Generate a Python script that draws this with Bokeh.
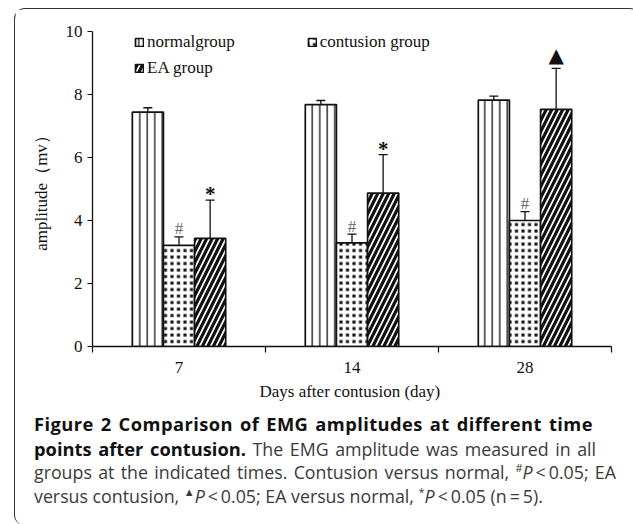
from bokeh.plotting import figure
from bokeh.models import (Range1d, FixedTicker, ColumnDataSource, Whisker, TeeHead, Legend,
                          LegendItem, Div)
from bokeh.layouts import column
from bokeh.transform import dodge
from bokeh.embed import file_html
from bokeh.resources import INLINE
from bokeh.core.properties import value

# ---- data ----
days = ["7", "14", "28"]
group_names = ["normalgroup", "contusion group", "EA group"]
normal_mean = [7.44, 7.68, 7.82]
normal_err = [0.14, 0.13, 0.13]
contusion_mean = [3.21, 3.29, 4.00]
contusion_err = [0.27, 0.28, 0.28]
ea_mean = [3.43, 4.87, 7.53]
ea_err = [1.22, 1.22, 1.30]
contusion_marks = ["#", "#", "#"]
ea_marks = ["*", "*", "\u25B2"]
y_ticks = [0, 2, 4, 6, 8, 10]

SERIF = "Liberation Serif"
INK = "#111111"

xs = [i + 0.5 for i in range(len(days))]
src = ColumnDataSource(dict(
    x=xs,
    normal=normal_mean,
    n_up=[m + e for m, e in zip(normal_mean, normal_err)],
    n_lo=[m - e for m, e in zip(normal_mean, normal_err)],
    contusion=contusion_mean,
    c_up=[m + e for m, e in zip(contusion_mean, contusion_err)],
    c_lo=[m - e for m, e in zip(contusion_mean, contusion_err)],
    ea=ea_mean,
    e_up=[m + e for m, e in zip(ea_mean, ea_err)],
    e_lo=[m - e for m, e in zip(ea_mean, ea_err)],
    c_mark=contusion_marks,
))
star_idx = [i for i, m in enumerate(ea_marks) if m == "*"]
tri_idx = [i for i, m in enumerate(ea_marks) if m != "*"]
star_src = ColumnDataSource(dict(
    x=[xs[i] for i in star_idx],
    y=[ea_mean[i] + ea_err[i] for i in star_idx],
    t=[ea_marks[i] for i in star_idx]))
tri_src = ColumnDataSource(dict(
    x=[xs[i] for i in tri_idx],
    y=[ea_mean[i] + ea_err[i] for i in tri_idx],
    t=[ea_marks[i] for i in tri_idx]))

p = figure(width=615, height=398, x_range=Range1d(0, len(days)), y_range=Range1d(0, 10),
           output_backend="svg", toolbar_location=None,
           min_border_left=77, min_border_right=19, min_border_top=22, min_border_bottom=61)
p.outline_line_color = None
p.grid.visible = False
p.background_fill_color = "white"
p.border_fill_color = "white"

W = 0.18
OFF = 0.18
bar_common = dict(width=W, source=src, line_color=INK, line_width=1.7)
r_n = p.vbar(x=dodge("x", -OFF, range=p.x_range), top="normal", bottom=0,
             fill_color="white", hatch_color=INK,
             hatch_pattern="vertical_line", hatch_scale=7.5, hatch_weight=1.3, **bar_common)
# square dots: dark fill crossed by a white grid leaves small dark squares
r_c = p.vbar(x=dodge("x", 0, range=p.x_range), top="contusion", bottom=0,
             fill_color=INK, hatch_color="white",
             hatch_pattern="cross", hatch_scale=6.5, hatch_weight=3.4, **bar_common)
r_e = p.vbar(x=dodge("x", OFF, range=p.x_range), top="ea", bottom=0,
             fill_color="white", hatch_color=INK,
             hatch_pattern="right_diagonal_line", hatch_scale=11, hatch_weight=3.2, **bar_common)

for off, up, lo in [(-OFF, "n_up", "n_lo"), (0, "c_up", "c_lo"), (OFF, "e_up", "e_lo")]:
    w = Whisker(source=src, base=dodge("x", off, range=p.x_range), upper=up, lower=lo,
                line_color=INK, line_width=1.3,
                upper_head=TeeHead(size=9, line_width=1.3, line_color=INK),
                lower_head=TeeHead(size=9, line_width=1.3, line_color=INK))
    p.add_layout(w)

# significance marks
p.text(x=dodge("x", 0, range=p.x_range), y="c_up", text="c_mark", source=src,
       text_align="center", text_baseline="alphabetic", y_offset=-8,
       text_font=value(SERIF), text_font_size="17px", text_color="#6a6a6a")
p.text(x=dodge("x", OFF, range=p.x_range), y="y", text="t", source=star_src,
       text_align="center", text_baseline="alphabetic", y_offset=-6,
       text_font=value(SERIF), text_font_size="21px", text_font_style="bold", text_color=INK)
p.text(x=dodge("x", OFF, range=p.x_range), y="y", text="t", source=tri_src,
       text_align="center", text_baseline="alphabetic", y_offset=-13,
       text_font=value("DejaVu Sans"), text_font_size="20px", text_color=INK)

# axes
p.yaxis.ticker = FixedTicker(ticks=y_ticks)
p.yaxis.minor_tick_line_color = None
p.yaxis.major_tick_in = 0
p.yaxis.major_tick_out = 5
p.yaxis.axis_label = "amplitude\uff08mv\uff09"
p.yaxis.axis_label_standoff = 12

p.xaxis.ticker = FixedTicker(ticks=xs, minor_ticks=list(range(len(days) + 1)))
p.xaxis.major_label_overrides = {x: d for x, d in zip(xs, days)}
p.xaxis.major_tick_in = 0
p.xaxis.major_tick_out = 6
p.xaxis.minor_tick_in = 0
p.xaxis.minor_tick_out = 6
p.xaxis.minor_tick_line_color = INK
p.xaxis.minor_tick_line_width = 1.2
p.xaxis.major_label_standoff = 9
p.xaxis.axis_label = "Days after  contusion (day)"
p.xaxis.axis_label_standoff = 6

for ax in (p.xaxis, p.yaxis):
    ax.axis_line_color = INK
    ax.axis_line_width = 1.3
    ax.major_tick_line_width = 1.2
    ax.major_label_text_font = SERIF
    ax.major_label_text_font_size = "17px"
    ax.major_label_text_color = INK
    ax.axis_label_text_font = SERIF
    ax.axis_label_text_font_size = "17px"
    ax.axis_label_text_font_style = "normal"
    ax.axis_label_text_color = INK
p.yaxis.major_tick_line_color = INK
p.xaxis.major_tick_line_color = None

leg_common = dict(border_line_color=None, background_fill_alpha=0, padding=0, margin=0,
                  glyph_width=10, glyph_height=10, label_standoff=3,
                  label_text_font=SERIF, label_text_font_size="17px", label_text_color=INK,
                  label_height=20)
leg1 = Legend(items=[LegendItem(label=group_names[0], renderers=[r_n]),
                     LegendItem(label=group_names[1], renderers=[r_c])],
              orientation="horizontal", spacing=72, location=(42, 294), **leg_common)
leg2 = Legend(items=[LegendItem(label=group_names[2], renderers=[r_e])],
              orientation="horizontal", location=(42, 268), **leg_common)
p.add_layout(leg1)
p.add_layout(leg2)

line_css = "text-align:justify;text-align-last:justify;"
bold_css = "color:#111;font-size:18.3px"
sup = '<sup style="font-size:11px;line-height:0">{}</sup>'
caption = (
    f'<div style="width:559px;letter-spacing:0.45px;{line_css}"><b style="{bold_css}">Figure 2 Comparison of EMG amplitudes at different time</b></div>'
    f'<div style="width:562px;{line_css}"><b style="{bold_css}">points after contusion.</b> The EMG amplitude was measured in all</div>'
    f'<div style="width:582px;{line_css}">groups at the indicated times. Contusion versus normal, {sup.format("#")}<i>P</i>&thinsp;&lt;&thinsp;0.05; EA</div>'
    f'<div style="white-space:nowrap">versus contusion, {sup.format(chr(0x25B2))}<i>P</i>&thinsp;&lt;&thinsp;0.05; EA versus normal, {sup.format("*")}<i>P</i>&thinsp;&lt;&thinsp;0.05 (n&thinsp;=&thinsp;5).</div>'
)
div = Div(text=caption, width=615, height=108,
          styles={"font-family": "'Open Sans'", "font-size": "17.8px", "line-height": "23.7px",
                  "color": "#3a3a3a", "padding-left": "14px", "padding-top": "0px"})

layout = column(p, div, margin=(8, 0, 0, 14),
                styles={"border-left": "1.6px solid #333", "border-top": "1.6px solid #333",
                        "border-right": "1.6px solid #333",
                        "border-radius": "11px 11px 0 10px", "background": "white"})

open("out.html", "w").write(file_html(layout, INLINE))
